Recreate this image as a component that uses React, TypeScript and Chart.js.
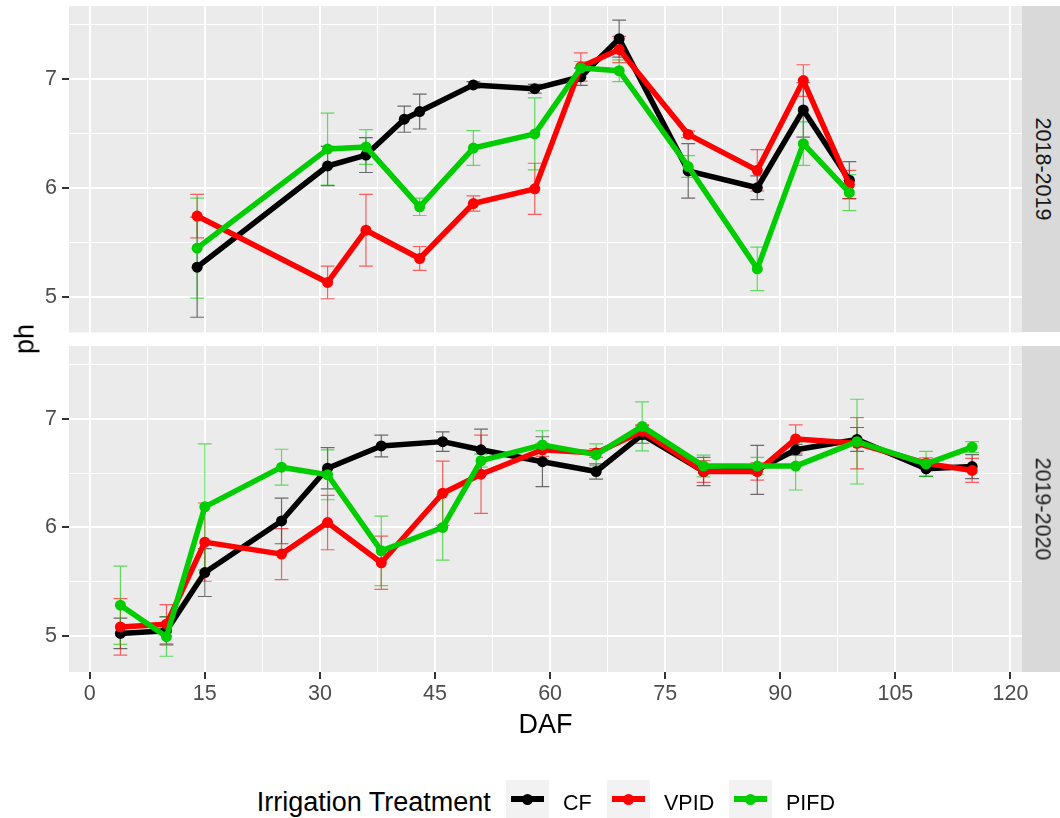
import React, { useEffect, useRef } from 'react';
import { Chart, registerables } from 'chart.js';

Chart.register(...registerables);

// ---------- data ----------
const treatments = ['CF', 'VPID', 'PIFD'];
const seasons = ['2018-2019', '2019-2020'];

// 2018-2019
const dafCF18 = [14, 31, 36, 41, 43, 50, 58, 64, 69, 78, 87, 93, 99];
const cf18 = [5.27, 6.2, 6.3, 6.63, 6.7, 6.945, 6.91, 7.02, 7.37, 6.155, 6.0, 6.715, 6.07];
const cf18Err = [0.46, 0.18, 0.16, 0.12, 0.16, 0.03, 0.04, 0.08, 0.17, 0.25, 0.11, 0.25, 0.17];

const daf18 = [14, 31, 36, 43, 50, 58, 64, 69, 78, 87, 93, 99];
const vpid18 = [5.74, 5.13, 5.61, 5.35, 5.855, 5.99, 7.11, 7.27, 6.49, 6.16, 6.985, 6.03];
const vpid18Err = [0.2, 0.15, 0.33, 0.11, 0.07, 0.235, 0.13, 0.12, 0.03, 0.19, 0.145, 0.13];
const pifd18 = [5.445, 6.355, 6.375, 5.825, 6.365, 6.495, 7.1, 7.075, 6.195, 5.255, 6.405, 5.955];
const pifd18Err = [0.46, 0.33, 0.16, 0.08, 0.16, 0.33, 0.06, 0.1, 0.1, 0.2, 0.2, 0.165];

// 2019-2020
const daf19 = [4, 10, 15, 25, 31, 38, 46, 51, 59, 66, 72, 80, 87, 92, 100, 109, 115];
const cf19 = [5.025, 5.05, 5.585, 6.06, 6.545, 6.75, 6.79, 6.715, 6.605, 6.515, 6.855, 6.515, 6.53, 6.715, 6.81, 6.54, 6.56];
const cf19Err = [0.14, 0.13, 0.22, 0.21, 0.19, 0.1, 0.09, 0.19, 0.23, 0.07, 0.08, 0.13, 0.225, 0.05, 0.11, 0.07, 0.11];
const vpid19 = [5.085, 5.11, 5.865, 5.755, 6.045, 5.675, 6.315, 6.49, 6.715, 6.685, 6.885, 6.515, 6.515, 6.815, 6.775, 6.59, 6.525];
const vpid19Err = [0.26, 0.18, 0.36, 0.235, 0.25, 0.245, 0.295, 0.36, 0.06, 0.04, 0.06, 0.1, 0.08, 0.13, 0.235, 0.05, 0.11];
const pifd19 = [5.285, 4.995, 6.19, 6.555, 6.485, 5.785, 6.0, 6.615, 6.76, 6.67, 6.93, 6.565, 6.565, 6.565, 6.79, 6.585, 6.74];
const pifd19Err = [0.36, 0.18, 0.58, 0.165, 0.23, 0.32, 0.3, 0.06, 0.13, 0.1, 0.225, 0.1, 0.08, 0.22, 0.39, 0.115, 0.05];

// axes
const xTickLabels = [0, 15, 30, 45, 60, 75, 90, 105, 120];
const xMinorLines = [7.5, 22.5, 37.5, 52.5, 67.5, 82.5, 97.5, 112.5];
const yTickLabels = [5, 6, 7];
const yMinorLines = [5.5, 6.5, 7.5];
const xLimits = [-2.7, 121.5];
const yLimits = [4.67, 7.67];
const capWidthDays = 1.8;

// ---------- styles ----------
const FONT = '"Liberation Sans", Arial, Helvetica, sans-serif';
const lineColors = ['#000000', '#FF0000', '#00CD00'];
const errColors = ['rgba(0,0,0,0.55)', 'rgba(255,0,0,0.6)', 'rgba(0,205,0,0.6)'];

type Series = { daf: number[]; vals: number[]; errs: number[] };

const season18: Series[] = [
  { daf: dafCF18, vals: cf18, errs: cf18Err },
  { daf: daf18, vals: vpid18, errs: vpid18Err },
  { daf: daf18, vals: pifd18, errs: pifd18Err },
];
const season19: Series[] = [
  { daf: daf19, vals: cf19, errs: cf19Err },
  { daf: daf19, vals: vpid19, errs: vpid19Err },
  { daf: daf19, vals: pifd19, errs: pifd19Err },
];

const bgPlugin = {
  id: 'panelBg',
  beforeDraw(chart: any) {
    const { ctx, chartArea } = chart;
    ctx.save();
    ctx.fillStyle = '#EBEBEB';
    ctx.fillRect(chartArea.left, chartArea.top, chartArea.right - chartArea.left, chartArea.bottom - chartArea.top);
    ctx.restore();
  },
};

const errorBarPlugin = {
  id: 'errorBars',
  beforeDatasetsDraw(chart: any) {
    const { ctx, chartArea } = chart;
    const xs = chart.scales.x;
    const ys = chart.scales.y;
    ctx.save();
    ctx.beginPath();
    ctx.rect(chartArea.left, chartArea.top, chartArea.right - chartArea.left, chartArea.bottom - chartArea.top);
    ctx.clip();
    ctx.lineWidth = 1.2;
    chart.data.datasets.forEach((ds: any, i: number) => {
      ctx.strokeStyle = errColors[i];
      ds.data.forEach((p: any) => {
        const px = xs.getPixelForValue(p.x);
        const hw = Math.abs(xs.getPixelForValue(p.x + capWidthDays / 2) - px);
        const yLo = ys.getPixelForValue(p.y - p.err);
        const yHi = ys.getPixelForValue(p.y + p.err);
        ctx.beginPath();
        ctx.moveTo(px, yLo);
        ctx.lineTo(px, yHi);
        ctx.moveTo(px - hw, yLo);
        ctx.lineTo(px + hw, yLo);
        ctx.moveTo(px - hw, yHi);
        ctx.lineTo(px + hw, yHi);
        ctx.stroke();
      });
    });
    ctx.restore();
  },
};

function PanelChart({ series, top, height, showX }: { series: Series[]; top: number; height: number; showX: boolean }) {
  const ref = useRef<HTMLCanvasElement>(null);
  useEffect(() => {
    const datasets = series.map((s, i) => ({
      label: treatments[i],
      data: s.daf.map((d, j) => ({ x: d, y: s.vals[j], err: s.errs[j] })),
      borderColor: lineColors[i],
      backgroundColor: lineColors[i],
      borderWidth: 5.5,
      borderJoinStyle: 'round',
      pointRadius: 5.5,
      pointHoverRadius: 5.5,
      pointBorderWidth: 0,
      pointBackgroundColor: lineColors[i],
      tension: 0,
      order: 3 - i,
    }));
    const xGrid = [...xTickLabels, ...xMinorLines].sort((a, b) => a - b);
    const yGrid = [...yTickLabels, ...yMinorLines].sort((a, b) => a - b);
    const chart = new Chart(ref.current as HTMLCanvasElement, {
      type: 'line',
      data: { datasets: datasets as any },
      plugins: [bgPlugin, errorBarPlugin],
      options: {
        animation: false,
        responsive: false,
        devicePixelRatio: 1,
        events: [],
        layout: { padding: { top: 6, right: 38, left: 0, bottom: 0 } },
        plugins: { legend: { display: false }, tooltip: { enabled: false } },
        scales: {
          x: {
            type: 'linear',
            min: xLimits[0],
            max: xLimits[1],
            bounds: 'data',
            afterBuildTicks: (s: any) => {
              s.ticks = xGrid.map((v) => ({ value: v }));
            },
            afterFit: (s: any) => {
              s.height = showX ? 38 : 0;
              s.paddingLeft = 0;
              s.paddingRight = 0;
            },
            border: { display: false },
            grid: {
              color: '#FFFFFF',
              lineWidth: (c: any) => (c.tick && xTickLabels.includes(c.tick.value) ? 2 : 1),
              drawTicks: showX,
              tickLength: 7,
              tickWidth: 2,
              tickColor: (c: any) => (c.tick && xTickLabels.includes(c.tick.value) ? '#333333' : 'rgba(0,0,0,0)'),
            },
            ticks: {
              display: showX,
              autoSkip: false,
              maxRotation: 0,
              padding: 2,
              color: '#4D4D4D',
              font: { family: FONT, size: 21.5 },
              callback: (v: any) => (xTickLabels.includes(Number(v)) ? String(v) : ''),
            },
          },
          y: {
            type: 'linear',
            min: yLimits[0],
            max: yLimits[1],
            bounds: 'data',
            afterBuildTicks: (s: any) => {
              s.ticks = yGrid.map((v) => ({ value: v }));
            },
            afterFit: (s: any) => {
              s.width = 69;
              s.paddingTop = 0;
              s.paddingBottom = 0;
            },
            border: { display: false },
            grid: {
              color: '#FFFFFF',
              lineWidth: (c: any) => (c.tick && yTickLabels.includes(c.tick.value) ? 2 : 1),
              drawTicks: true,
              tickLength: 7,
              tickWidth: 2,
              tickColor: (c: any) => (c.tick && yTickLabels.includes(c.tick.value) ? '#333333' : 'rgba(0,0,0,0)'),
            },
            ticks: {
              autoSkip: false,
              padding: 5,
              color: '#4D4D4D',
              font: { family: FONT, size: 21.5 },
              callback: (v: any) => (yTickLabels.includes(Number(v)) ? String(v) : ''),
            },
          },
        },
      } as any,
    });
    return () => chart.destroy();
  }, []);
  return (
    <canvas
      ref={ref}
      width={1060}
      height={height}
      style={{ position: 'absolute', left: 0, top, width: 1060, height, display: 'block' }}
    />
  );
}

function Strip({ label, top, height }: { label: string; top: number; height: number }) {
  return (
    <div style={{ position: 'absolute', left: 1022, top, width: 38, height, background: '#D9D9D9' }}>
      <div
        style={{
          position: 'absolute',
          left: 20,
          top: height / 2,
          transform: 'translate(-50%, -50%) rotate(90deg)',
          whiteSpace: 'nowrap',
          fontSize: 21.5,
          lineHeight: 1,
          color: '#1A1A1A',
        }}
      >
        {label}
      </div>
    </div>
  );
}

function LegendKey({ left, color }: { left: number; color: string }) {
  return (
    <div style={{ position: 'absolute', left, top: 780, width: 43, height: 38, background: '#F2F2F2' }}>
      <div style={{ position: 'absolute', left: 5, top: 19, width: 33, height: 6, marginTop: -3, background: color }} />
      <div
        style={{
          position: 'absolute',
          left: 21.5,
          top: 19,
          width: 11,
          height: 11,
          marginLeft: -5.5,
          marginTop: -5.5,
          borderRadius: '50%',
          background: color,
        }}
      />
    </div>
  );
}

function TextAt({ text, left, cy, size, anchor }: { text: string; left: number; cy: number; size: number; anchor?: 'left' | 'center' }) {
  return (
    <div
      style={{
        position: 'absolute',
        left,
        top: cy - 20,
        height: 40,
        lineHeight: '40px',
        fontSize: size,
        whiteSpace: 'nowrap',
        color: '#000000',
        transform: anchor === 'center' ? 'translateX(-50%)' : undefined,
      }}
    >
      {text}
    </div>
  );
}

export default function App() {
  const keyLefts = [505.7, 607, 729];
  const labelLefts = [563, 664, 786];
  return (
    <div
      style={{
        position: 'absolute',
        left: 0,
        top: 0,
        width: 1060,
        height: 818,
        overflow: 'hidden',
        background: '#FFFFFF',
        fontFamily: FONT,
      }}
    >
      <PanelChart series={season18} top={0} height={338} showX={false} />
      <PanelChart series={season19} top={340} height={370} showX={true} />
      <Strip label={seasons[0]} top={6} height={326} />
      <Strip label={seasons[1]} top={346} height={326} />
      <div
        style={{
          position: 'absolute',
          left: 25,
          top: 339,
          transform: 'translate(-50%, -50%) rotate(-90deg)',
          fontSize: 27,
          lineHeight: 1,
          whiteSpace: 'nowrap',
          color: '#000000',
        }}
      >
        ph
      </div>
      <TextAt text="DAF" left={545.5} cy={724} size={27} anchor="center" />
      <TextAt text="Irrigation Treatment" left={256.7} cy={802} size={27} />
      {treatments.map((t, i) => (
        <React.Fragment key={t}>
          <LegendKey left={keyLefts[i]} color={lineColors[i]} />
          <TextAt text={t} left={labelLefts[i]} cy={803} size={21.5} />
        </React.Fragment>
      ))}
    </div>
  );
}
